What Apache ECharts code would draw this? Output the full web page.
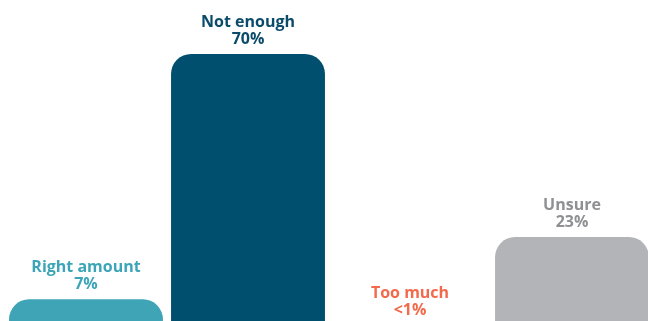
<!DOCTYPE html>
<html>
<head>
<meta charset="utf-8">
<script src="https://cdn.jsdelivr.net/npm/echarts@6/dist/echarts.min.js"></script>
<style>
html,body{margin:0;padding:0;background:#fff;overflow:hidden;width:648px;height:321px;}
#chart{position:absolute;left:0;top:0;width:653px;height:327px;}
</style>
</head>
<body>
<div id="chart"></div>
<script>
const categories = ['Right amount', 'Not enough', 'Too much', 'Unsure'];
const values = [7, 70, 0.3, 23];
const valueLabels = ['7%', '70%', '<1%', '23%'];
const barColors = ['#3EA4B6', '#004F6F', '#F26A4B', '#B2B4B7'];
const labelColors = ['#3CA5B8', '#0B4B6A', '#F26A4B', '#8E9093'];

const chart = echarts.init(document.getElementById('chart'));
chart.setOption({
  animation: false,
  grid: { left: 5, right: 0, top: 54, bottom: 0.4, containLabel: false },
  xAxis: { type: 'category', data: categories, show: false },
  yAxis: { type: 'value', min: 0, max: 70, show: false },
  series: [{
    type: 'bar',
    barCategoryGap: '5%',
    data: values.map((v, i) => ({
      value: v,
      itemStyle: { color: barColors[i], borderRadius: [20, 20, 0, 0] },
      label: {
        show: true,
        position: 'top',
        distance: 6,
        formatter: categories[i] + '\n' + valueLabels[i],
        color: labelColors[i],
        fontFamily: 'Open Sans',
        fontWeight: 'bold',
        fontSize: 16,
        lineHeight: 17,
        align: 'center'
      }
    }))
  }]
});
</script>
</body>
</html>
